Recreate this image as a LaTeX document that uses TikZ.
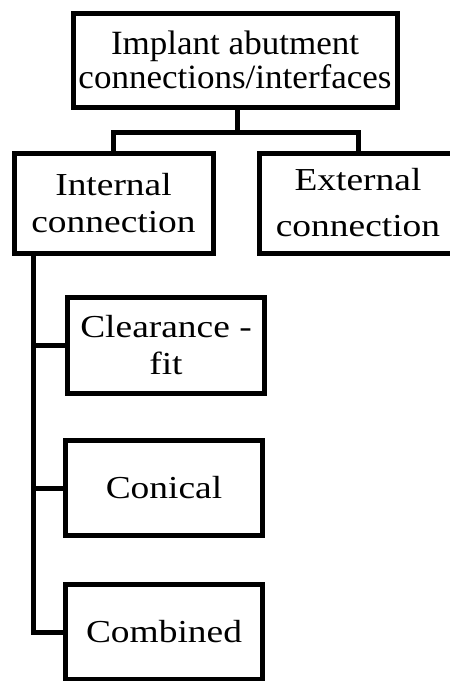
\documentclass[tikz,border=0pt]{standalone}
\usepackage{fontspec}
\setmainfont{Liberation Serif}
\newfontfamily\widefont[FakeStretch=1.17]{Liberation Serif}
\newfontfamily\topfont[FakeStretch=1.03]{Liberation Serif}
\begin{document}
\begin{tikzpicture}[x=1pt,y=-1pt,
  box/.style={draw,line width=5pt,inner sep=0pt,align=center,anchor=center},
  lowtext/.style={font=\widefont\fontsize{32}{37}\selectfont},
  link/.style={line width=5pt,line join=miter}]
\clip (0,0) rectangle (450,681);
\fill[white] (0,0) rectangle (450,681);
\node[box,minimum width=324pt,minimum height=94pt,font=\topfont\fontsize{34}{34}\selectfont] (top) at (235,60) {Implant abutment\\connections/interfaces};
\node[box,lowtext,minimum width=199pt,minimum height=100pt] (int) at (113.5,203) {Internal\\connection};
\node[box,minimum width=197pt,minimum height=100pt,font=\widefont\fontsize{32}{46}\selectfont] (ext) at (358,203) {External\\connection};
\node[box,lowtext,minimum width=197pt,minimum height=96pt] (clr) at (166,345.5) {Clearance -\\fit};
\node[box,lowtext,minimum width=197pt,minimum height=95pt] (con) at (164,488) {Conical};
\node[box,lowtext,minimum width=197pt,minimum height=95.5pt] (comb) at (164,632) {Combined};
\coordinate (jt) at (237,132);
\coordinate (spine) at (33,253);
\draw[link] (top.south -| jt) -- (jt);
\draw[link] (int.north) |- (jt) -| (ext.north);
\draw[link] (spine) |- (comb.west);
\draw[link] (spine |- clr.west) -- (clr.west);
\draw[link] (spine |- con.west) -- (con.west);
\end{tikzpicture}
\end{document}
